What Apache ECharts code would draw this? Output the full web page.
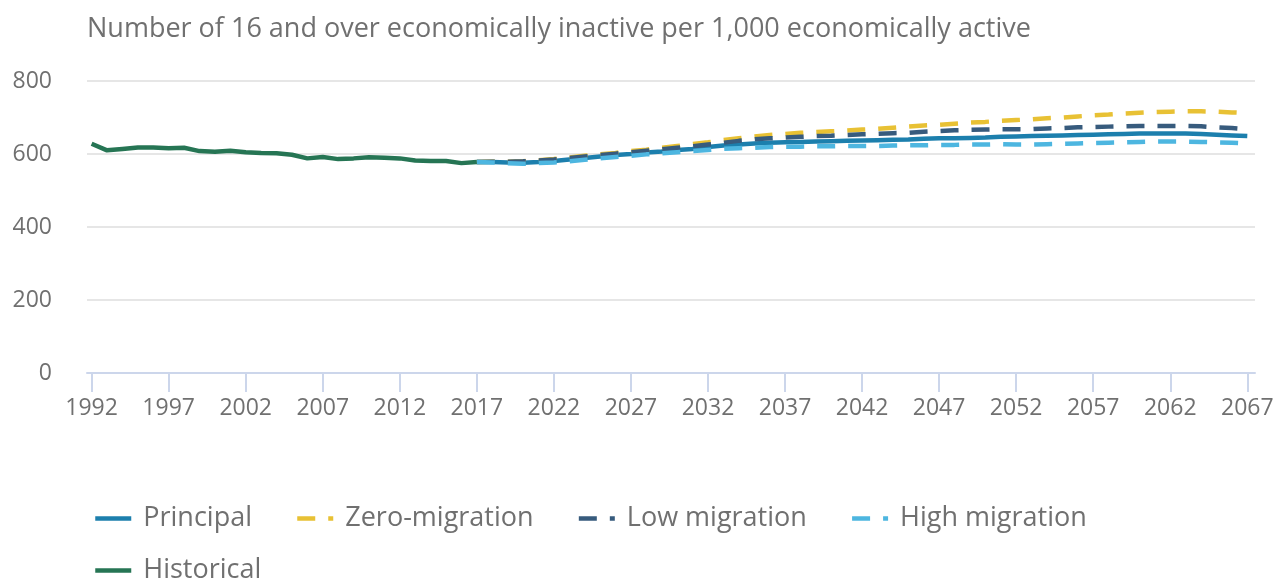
<!DOCTYPE html>
<html>
<head>
<meta charset="utf-8">
<script src="https://cdn.jsdelivr.net/npm/echarts@6/dist/echarts.min.js"></script>
<style>
  html, body { margin: 0; padding: 0; background: #fff; }
  #main { width: 1279px; height: 581px; }
</style>
</head>
<body>
<div id="main"></div>
<script>
// data
const histYears = [1992, 1993, 1994, 1995, 1996, 1997, 1998, 1999, 2000, 2001, 2002, 2003, 2004,
  2005, 2006, 2007, 2008, 2009, 2010, 2011, 2012, 2013, 2014, 2015, 2016, 2017];
const historical = [628, 610, 614, 618, 618, 616, 617, 608, 606, 609, 605, 603, 602,
  598, 588, 592, 586, 588, 591, 590, 588, 582, 581, 581, 575, 578];

const projYears = [];
for (let y = 2017; y <= 2067; y++) projYears.push(y);

const principal = [578, 578, 577, 576, 578, 581, 585, 589, 593, 597,
  600, 604, 607, 611, 614, 619, 623, 626, 629, 631,
  632, 633, 634, 635, 636, 637, 638, 639, 640, 642,
  643, 643, 644, 645, 647, 648, 649, 650, 651, 652,
  653, 654, 655, 656, 656, 656, 656, 655, 653, 651, 649];
const zeroMigration = [578, 579, 579, 580, 583, 586, 590, 595, 599, 603,
  608, 612, 617, 622, 627, 632, 638, 643, 648, 652,
  655, 658, 660, 662, 664, 667, 669, 672, 675, 678,
  680, 683, 686, 688, 691, 693, 695, 698, 700, 703,
  706, 708, 711, 713, 715, 716, 717, 717, 716, 714, 712];
const lowMigration = [578, 579, 579, 580, 582, 585, 589, 593, 597, 601,
  605, 609, 613, 617, 621, 626, 631, 636, 640, 643,
  645, 647, 649, 650, 652, 654, 655, 657, 658, 661,
  663, 665, 666, 667, 668, 668, 668, 670, 671, 673,
  674, 675, 676, 677, 677, 677, 677, 676, 673, 671, 668];
const highMigration = [578, 577, 575, 573, 575, 577, 580, 584, 588, 592,
  595, 599, 602, 605, 608, 611, 614, 616, 617, 619,
  620, 620, 621, 621, 622, 622, 622, 623, 624, 624,
  625, 625, 626, 626, 627, 626, 626, 627, 628, 629,
  630, 631, 632, 633, 634, 634, 634, 633, 632, 631, 629];

const xTicks = [1992, 1997, 2002, 2007, 2012, 2017, 2022, 2027, 2032, 2037, 2042, 2047, 2052, 2057, 2062, 2067];

function pairs(xs, ys) {
  let out = [];
  for (let i = 0; i < xs.length; i++) out.push([xs[i], ys[i]]);
  return out;
}

const textColor = '#707070';
const font = 'Open Sans';

var myChart = echarts.init(document.getElementById('main'));

function lineSeries(name, xs, ys, color, dashed) {
  return {
    name: name,
    type: 'line',
    data: pairs(xs, ys),
    symbol: 'none',
    showSymbol: false,
    color: color,
    lineStyle: {
      color: color,
      width: 4.5,
      type: dashed ? [18, 13] : 'solid'
    },
    emphasis: { disabled: true }
  };
}

var legendText = {
  color: textColor,
  fontFamily: font,
  fontSize: 27,
  padding: [0, 0, 0, 7]
};

var option = {
  animation: false,
  title: {
    text: 'Number of 16 and over economically inactive per 1,000 economically active',
    left: 82,
    top: 11,
    textStyle: {
      color: textColor,
      fontFamily: font,
      fontSize: 27,
      fontWeight: 'normal'
    }
  },
  legend: [
    {
      data: ['Principal', 'Zero-migration', 'Low migration', 'High migration'],
      left: 88,
      top: 500,
      itemWidth: 36,
      itemHeight: 14,
      itemGap: 43,
      itemStyle: { opacity: 0 },
      lineStyle: { width: 4.5 },
      textStyle: legendText
    },
    {
      data: ['Historical'],
      left: 88,
      top: 552,
      itemWidth: 36,
      itemHeight: 14,
      itemStyle: { opacity: 0 },
      lineStyle: { width: 4.5 },
      textStyle: legendText
    }
  ],
  grid: {
    left: 87,
    right: 24,
    top: 81,
    bottom: 208
  },
  xAxis: {
    type: 'value',
    min: 1991.7,
    max: 2067.5,
    axisLine: { lineStyle: { color: '#ccd6eb', width: 2 } },
    axisTick: {
      customValues: xTicks,
      length: 19,
      lineStyle: { color: '#ccd6eb', width: 2 }
    },
    axisLabel: {
      customValues: xTicks,
      color: textColor,
      fontFamily: font,
      fontSize: 23,
      margin: 24,
      formatter: function (v) { return String(v); }
    },
    splitLine: { show: false }
  },
  yAxis: {
    type: 'value',
    min: 0,
    max: 800,
    interval: 200,
    axisLine: { show: false },
    axisTick: { show: false },
    axisLabel: {
      color: textColor,
      fontFamily: font,
      fontSize: 23,
      margin: 35
    },
    splitLine: { lineStyle: { color: '#e6e6e6', width: 2 } }
  },
  series: [
    lineSeries('Principal', projYears, principal, '#1c7fad', false),
    lineSeries('Zero-migration', projYears, zeroMigration, '#e8c134', true),
    lineSeries('Low migration', projYears, lowMigration, '#375b7d', true),
    lineSeries('High migration', projYears, highMigration, '#4db6e0', true),
    lineSeries('Historical', histYears, historical, '#267554', false)
  ]
};

myChart.setOption(option);
</script>
</body>
</html>
